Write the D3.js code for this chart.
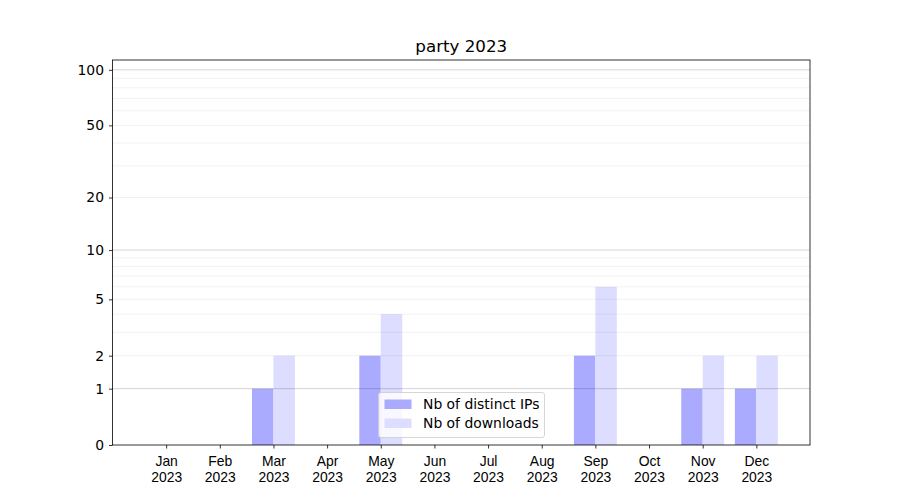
<!DOCTYPE html>
<html><head><meta charset="utf-8">
<script src="https://cdn.jsdelivr.net/npm/d3@7"></script>
<style>body{margin:0;background:#fff}svg{font-family:"DejaVu Sans",sans-serif}</style>
</head><body><svg id="c" width="900" height="500"></svg>
<script>
const months = ["Jan","Feb","Mar","Apr","May","Jun","Jul","Aug","Sep","Oct","Nov","Dec"];
const yearLabel = "2023";
const distinctIPs = [0,0,1,0,2,0,0,0,2,0,1,1];
const downloads = [0,0,2,0,4,0,0,0,6,0,2,2];
const yTicks = [0,1,2,5,10,20,50,100];
const majorGrid = [1,10,100];
const minorGrid = [2,3,4,5,6,7,8,9,20,30,40,50,60,70,80,90];
const title = "party 2023";

const svg = d3.select("#c");
const L=112.5,R=810,T=60,B=445;
const FS=13.9;
const x = d3.scaleLinear().domain([-1,12]).range([L,R]);
const y = d3.scaleSymlog().constant(1).domain([0,113]).range([B,T]);
const bw = x(0.4)-x(0);

svg.append("g").selectAll("rect").data(distinctIPs).join("rect")
  .attr("x",(d,i)=>x(i-0.4)).attr("width",bw)
  .attr("y",d=>y(d)).attr("height",d=>B-y(d)).attr("fill","#aaaaff");
svg.append("g").selectAll("rect").data(downloads).join("rect")
  .attr("x",(d,i)=>x(i)).attr("width",bw)
  .attr("y",d=>y(d)).attr("height",d=>B-y(d)).attr("fill","#ddddff");

svg.append("g").selectAll("line").data(minorGrid).join("line")
  .attr("x1",L).attr("x2",R).attr("y1",d=>y(d)).attr("y2",d=>y(d))
  .attr("stroke","#000").attr("stroke-opacity",0.07).attr("stroke-width",0.8);
svg.append("g").selectAll("line").data(majorGrid).join("line")
  .attr("x1",L).attr("x2",R).attr("y1",d=>y(d)).attr("y2",d=>y(d))
  .attr("stroke","#000").attr("stroke-opacity",0.22).attr("stroke-width",0.8);

const yAxis = svg.append("g").attr("transform",`translate(${L},0)`)
  .call(d3.axisLeft(y).tickValues(yTicks).tickFormat(d3.format("d")).tickSize(3.5).tickPadding(5));
const xAxis = svg.append("g").attr("transform",`translate(0,${B})`)
  .call(d3.axisBottom(x).tickValues(d3.range(12)).tickFormat(()=>"").tickSize(3.5));
[yAxis,xAxis].forEach(a=>{a.select(".domain").remove();a.selectAll("text").attr("font-size",FS).attr("fill","#000").attr("font-family","DejaVu Sans");a.selectAll("line").attr("stroke","#000").attr("stroke-width",0.8);});
xAxis.selectAll(".tick").each(function(d,i){
  const t=d3.select(this).append("text").attr("fill","#000").attr("font-size",FS).attr("text-anchor","middle");
  t.append("tspan").attr("x",0).attr("y",21).text(months[i]);
  t.append("tspan").attr("x",0).attr("y",37).text(yearLabel);
});

svg.append("rect").attr("x",L).attr("y",T).attr("width",R-L).attr("height",B-T)
  .attr("fill","none").attr("stroke","#000").attr("stroke-width",0.8);

svg.append("text").attr("x",(L+R)/2).attr("y",52).attr("text-anchor","middle")
  .attr("font-size",16.7).text(title);

const lg = svg.append("g").attr("transform","translate(378.5,392.5)");
lg.append("rect").attr("width",166).attr("height",45).attr("rx",2.5)
  .attr("fill","#fff").attr("fill-opacity",0.8).attr("stroke","#ccc").attr("stroke-width",0.8);
const items=[["Nb of distinct IPs","#aaaaff"],["Nb of downloads","#ddddff"]];
items.forEach((it,i)=>{
  lg.append("rect").attr("x",6).attr("y",7+i*19).attr("width",27).attr("height",9.5).attr("fill",it[1]);
  lg.append("text").attr("x",44.5).attr("y",16.5+i*19).attr("font-size",FS).text(it[0]);
});
</script></body></html>
